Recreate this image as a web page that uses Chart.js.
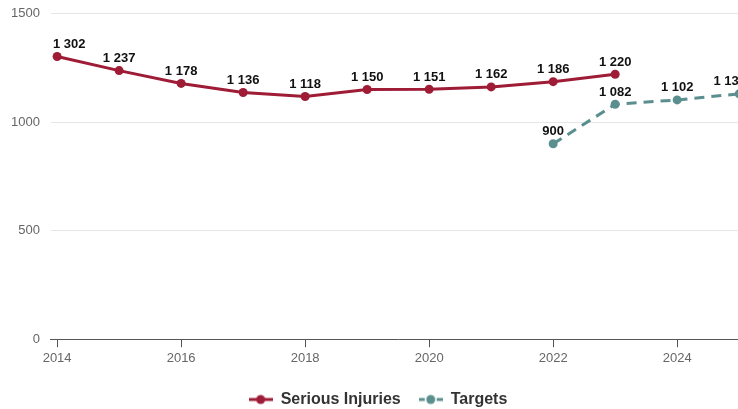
<!DOCTYPE html>
<html>
<head>
<meta charset="utf-8">
<script src="https://cdn.jsdelivr.net/npm/chart.js@4.4.1/dist/chart.umd.min.js"></script>
<style>
  html, body { margin: 0; padding: 0; background: #fff; overflow: hidden; }
  #recorte { width: 738px; height: 409px; overflow: hidden; }
  #wrap { width: 756px; height: 409px; position: relative; }
</style>
</head>
<body>
<div id="recorte"><div id="wrap"><canvas id="grafica"></canvas></div></div>
<script>
// datos
const anios = [2014, 2015, 2016, 2017, 2018, 2019, 2020, 2021, 2022, 2023];
const lesiones = [1302, 1237, 1178, 1136, 1118, 1150, 1151, 1162, 1186, 1220];
const aniosMeta = [2022, 2023, 2024, 2025];
const metas = [900, 1082, 1102, 1130];
const ticksY = [0, 500, 1000, 1500];

const ROJO = '#9e1c36';
const VERDE = '#5b8f8f';
const FUENTE = '"Liberation Sans", Arial, sans-serif';

const fmt = v => String(v).replace(/\B(?=(\d{3})+(?!\d))/g, ' ');

// icono de leyenda: linea con punto
function iconoLeyenda(color, dash) {
  const c = document.createElement('canvas');
  c.width = 24; c.height = 12;
  const g = c.getContext('2d');
  g.strokeStyle = color;
  g.lineWidth = 3;
  g.setLineDash(dash);
  g.beginPath(); g.moveTo(0, 6); g.lineTo(24, 6); g.stroke();
  g.fillStyle = color;
  g.beginPath(); g.arc(12, 6, 4.5, 0, Math.PI * 2); g.fill();
  return c;
}
const iconos = [iconoLeyenda(ROJO, []), iconoLeyenda(VERDE, [6, 3])];

// etiquetas de valores sobre los puntos (ajustadas al area del grafico)
const etiquetasPlugin = {
  id: 'etiquetas',
  afterDatasetsDraw(chart) {
    const ctx = chart.ctx;
    const area = chart.chartArea;
    ctx.save();
    ctx.font = 'bold 13px ' + FUENTE;
    ctx.fillStyle = '#111';
    ctx.textAlign = 'center';
    ctx.textBaseline = 'middle';
    chart.data.datasets.forEach((ds, i) => {
      chart.getDatasetMeta(i).data.forEach((pt, j) => {
        const txt = fmt(ds.data[j].y);
        const w = ctx.measureText(txt).width;
        let x = pt.x;
        if (x + w / 2 > area.right) x = area.right - w / 2;
        if (x - w / 2 < area.left + 2) x = area.left + 2 + w / 2;
        ctx.fillText(txt, x, pt.y - 12);
      });
    });
    ctx.restore();
  }
};

const ctx = document.getElementById('grafica').getContext('2d');
window.graficaInstance = new Chart(ctx, {
  type: 'line',
  data: {
    datasets: [
      {
        label: 'Serious Injuries',
        data: anios.map((a, i) => ({ x: a, y: lesiones[i] })),
        borderColor: ROJO,
        backgroundColor: ROJO,
        borderWidth: 3,
        pointRadius: 4.5,
        pointBorderWidth: 0,
        pointStyle: 'circle',
        tension: 0
      },
      {
        label: 'Targets',
        data: aniosMeta.map((a, i) => ({ x: a, y: metas[i] })),
        borderColor: VERDE,
        backgroundColor: VERDE,
        borderWidth: 3,
        borderDash: [10, 7],
        pointRadius: 4.5,
        pointBorderWidth: 0,
        pointStyle: 'circle',
        tension: 0
      }
    ]
  },
  options: {
    responsive: true,
    maintainAspectRatio: false,
    animation: false,
    layout: { padding: { top: 13.5, left: 0, right: 0, bottom: -8.5 } },
    plugins: {
      legend: {
        position: 'bottom',
        title: { display: true, text: '', font: { size: 1 }, padding: { top: 3.5, bottom: 0 } },
        labels: {
          usePointStyle: true,
          pointStyleWidth: 24,
          padding: 18,
          color: '#333',
          font: { family: FUENTE, size: 16, weight: 'bold' },
          generateLabels: chart => {
            const items = Chart.defaults.plugins.legend.labels.generateLabels(chart);
            items.forEach((it, i) => { it.pointStyle = iconos[i]; });
            return items;
          }
        }
      },
      tooltip: { enabled: false }
    },
    scales: {
      x: {
        type: 'linear',
        min: 2013.9,
        max: 2025.11,
        afterFit: s => { s.paddingLeft = 0; s.paddingRight = 10; },
        border: { display: true, color: '#555', width: 1 },
        grid: { drawOnChartArea: false, drawTicks: true, tickLength: 8, color: '#555' },
        ticks: {
          stepSize: 2,
          includeBounds: false,
          padding: 3,
          color: '#666',
          font: { family: FUENTE, size: 13 },
          callback: v => String(v)
        }
      },
      y: {
        min: 0,
        max: 1500,
        afterFit: s => { s.paddingTop = 0; s.paddingBottom = 0; },
        border: { display: false },
        grid: { color: '#e6e6e6', drawTicks: false },
        afterBuildTicks: axis => { axis.ticks = ticksY.map(v => ({ value: v })); },
        ticks: {
          padding: 11,
          color: '#666',
          font: { family: FUENTE, size: 13 },
          callback: v => String(v)
        }
      }
    }
  },
  plugins: [etiquetasPlugin]
});
</script>
</body>
</html>
